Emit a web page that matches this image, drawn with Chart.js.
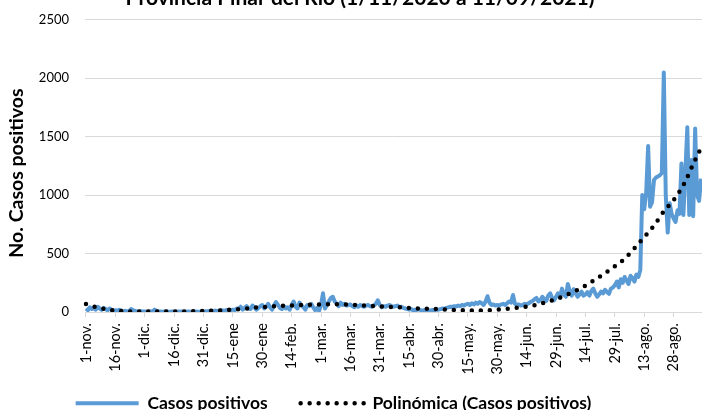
<!DOCTYPE html>
<html>
<head>
<meta charset="utf-8">
<script src="https://cdn.jsdelivr.net/npm/chart.js@4.4.1/dist/chart.umd.min.js"></script>
<style>
  html, body { margin: 0; padding: 0; background: #fff; }
  #wrap { position: relative; width: 702px; height: 410px; overflow: hidden; }
  /* the plot top sits 4px too low, so the canvas is 4px taller and moved up */
  #myChart { position: absolute; left: 0; top: -4px; }
</style>
</head>
<body>
<div id="wrap"><canvas id="myChart" width="702" height="414"></canvas></div>
<script>
// casos positivos diarios, Pinar del Rio, por mes (1/11/2020 - 11/09/2021)
const casosNov = [30, 15, 40, 25, 35, 20, 45, 30, 20, 35, 25, 15, 30, 20, 10,
                  15, 10, 20, 10, 5, 10, 5, 8, 25, 15, 10, 5, 4, 6, 5];
const casosDic = [5, 3, 4, 6, 5, 20, 10, 5, 4, 3, 5, 4, 2, 3, 4,
                  3, 2, 4, 3, 5, 2, 3, 4, 2, 3, 5, 4, 3, 2, 4, 5];
const casosEne = [6, 4, 8, 10, 6, 12, 8, 10, 15, 12, 10, 18, 12, 15,
                  20, 15, 30, 25, 45, 20, 35, 50, 30, 25, 55, 40, 20, 35, 50, 60, 30];
const casosFeb = [45, 70, 40, 20, 55, 85, 60, 35, 25, 50, 30, 40, 20,
                  60, 90, 45, 30, 80, 55, 40, 20, 60, 50, 70, 40, 15, 35, 10];
const casosMar = [60, 160, 30, 60, 90, 120, 130, 90, 70, 50, 80, 60, 70, 55, 60,
                  65, 50, 40, 55, 45, 60, 50, 45, 55, 60, 50, 45, 55, 70, 100, 60];
const casosAbr = [40, 50, 45, 55, 60, 50, 45, 50, 55, 40, 45, 35, 30, 25,
                  20, 25, 15, 20, 18, 22, 15, 10, 18, 20, 15, 12, 18, 15, 20, 20];
const casosMay = [25, 30, 28, 35, 40, 45, 42, 50, 48, 55, 50, 60, 55, 65,
                  70, 60, 75, 65, 80, 70, 85, 75, 60, 90, 135, 80, 60, 65, 55, 60, 55];
const casosJun = [65, 70, 60, 75, 90, 80, 145, 70, 60, 65, 55, 60, 70,
                  65, 75, 85, 95, 110, 120, 90, 100, 130, 110, 95, 140, 160, 120, 100, 130, 160];
const casosJul = [120, 200, 150, 130, 240, 180, 140, 195, 160, 130, 150, 175, 140,
                  150, 170, 140, 180, 200, 160, 130, 150, 175, 160, 190, 170, 155, 200, 210, 230, 260, 210];
const casosAgo = [280, 250, 300, 270, 240, 310, 290, 260, 320, 300, 360, 1000,
                  880, 1020, 1420, 900, 940, 1130, 1150, 1160, 1170, 1190, 2050, 1000, 680, 930, 840,
                  800, 770, 870, 840];
const casosSep = [1270, 830, 1190, 1580, 830, 1300, 820, 1570, 1000, 950, 1140];

const casos = [].concat(casosNov, casosDic, casosEne, casosFeb, casosMar, casosAbr,
                        casosMay, casosJun, casosJul, casosAgo, casosSep);

// linea de tendencia polinomica
const tendDias    = [0, 5, 10, 15, 20, 30, 40, 50, 60, 70, 80, 90, 100, 110, 120, 130, 140, 150,
                     160, 170, 180, 190, 200, 210, 220, 230, 240, 250, 255, 260, 265, 270, 275,
                     280, 285, 290, 295, 300, 305, 310, 314];
const tendValores = [68, 42, 24, 12, 6, 4, 4, 5, 8, 15, 27, 42, 52, 60, 65, 66, 58, 48,
                     40, 30, 24, 16, 12, 20, 36, 62, 112, 180, 225, 278, 332, 392, 455,
                     545, 640, 740, 860, 958, 1085, 1265, 1405];

const tickLabels = ['1-nov.', '16-nov.', '1-dic.', '16-dic.', '31-dic.', '15-ene', '30-ene',
                    '14-feb.', '1-mar.', '16-mar.', '31-mar.', '15-abr.', '30-abr.', '15-may.',
                    '30-may.', '14-jun.', '29-jun.', '14-jul.', '29-jul.', '13-ago.', '28-ago.'];

const titulo = 'Provincia Pinar del Río (1/11/2020 a 11/09/2021)';

// one category per day
const dias = [];
for (let i = 0; i < casos.length; i++) {
    const d = new Date(Date.UTC(2020, 10, 1 + i));
    dias.push(d.toISOString().slice(0, 10));
}

const tendencia = tendDias.map((d, i) => ({ x: dias[d], y: tendValores[i] }));

// the title is cut off at the top of the picture
const cutTitle = {
    id: 'cutTitle',
    afterDraw(chart) {
        const ctx = chart.ctx;
        ctx.save();
        ctx.font = 'bold 21px Lato';
        ctx.fillStyle = '#000';
        ctx.textAlign = 'center';
        ctx.textBaseline = 'alphabetic';
        ctx.fillText(titulo, 360, 9);
        ctx.restore();
    }
};

Chart.defaults.font.family = 'Lato';
Chart.defaults.color = '#000';

const grid = '#d9d9d9';

new Chart(document.getElementById('myChart'), {
    type: 'line',
    data: {
        labels: dias,
        datasets: [
            {
                label: 'Casos positivos',
                data: casos,
                borderColor: '#5b9bd5',
                borderWidth: 4,
                borderJoinStyle: 'round',
                pointRadius: 0,
                tension: 0,
                fill: false,
                order: 1
            },
            {
                label: 'Polinómica (Casos positivos)',
                data: tendencia,
                borderColor: '#000',
                borderWidth: 4.5,
                borderDash: [0, 9],
                borderCapStyle: 'round',
                pointRadius: 0,
                cubicInterpolationMode: 'monotone',
                fill: false,
                order: 0
            }
        ]
    },
    options: {
        responsive: false,
        animation: false,
        devicePixelRatio: 1,
        layout: { padding: { top: 11.7, right: 0, left: 0, bottom: -12 } },
        plugins: {
            title: { display: false },
            tooltip: { enabled: false },
            legend: {
                position: 'bottom',
                labels: {
                    boxWidth: 63,
                    boxHeight: 0,
                    padding: 16,
                    font: { size: 17.5, weight: 'bold' },
                    color: '#000',
                    // trailing spaces only widen the gaps, the legend sits left of centre
                    generateLabels: () => [
                        { text: 'Casos positivos    ', fillStyle: '#5b9bd5', strokeStyle: '#5b9bd5',
                          lineWidth: 4, lineCap: 'round', lineDash: [], datasetIndex: 0 },
                        { text: 'Polinómica (Casos positivos)\u2003\u2003\u2002', fillStyle: 'rgba(0,0,0,0)',
                          strokeStyle: '#000', lineWidth: 4.5, lineCap: 'round',
                          lineDash: [0, 9], datasetIndex: 1 }
                    ]
                }
            }
        },
        scales: {
            x: {
                type: 'category',
                offset: true,
                afterFit: (scale) => {
                    scale.height = 66.5;
                    scale.paddingLeft = 0;
                    scale.paddingRight = 0;
                },
                grid: {
                    drawOnChartArea: false,
                    tickLength: 5,
                    color: (c) => (c.index % 15 === 0 ? grid : 'rgba(0,0,0,0)')
                },
                border: { display: true, color: grid },
                ticks: {
                    autoSkip: false,
                    maxRotation: 90,
                    minRotation: 90,
                    padding: 6,
                    font: { size: 14.5 },
                    callback: (v, i) => (i % 15 === 0 ? tickLabels[i / 15] : '')
                }
            },
            y: {
                min: 0,
                max: 2500,
                afterFit: (scale) => { scale.width = 85; },
                ticks: { stepSize: 500, padding: 16, font: { size: 13 }, callback: (v) => String(v) },
                grid: { color: grid, drawTicks: false },
                border: { display: false },
                title: {
                    display: true,
                    text: 'No. Casos positivos   ',
                    font: { size: 19.5, weight: 'bold' },
                    padding: { top: 5.5, bottom: 0 }
                }
            }
        }
    },
    plugins: [cutTitle]
});
</script>
</body>
</html>
